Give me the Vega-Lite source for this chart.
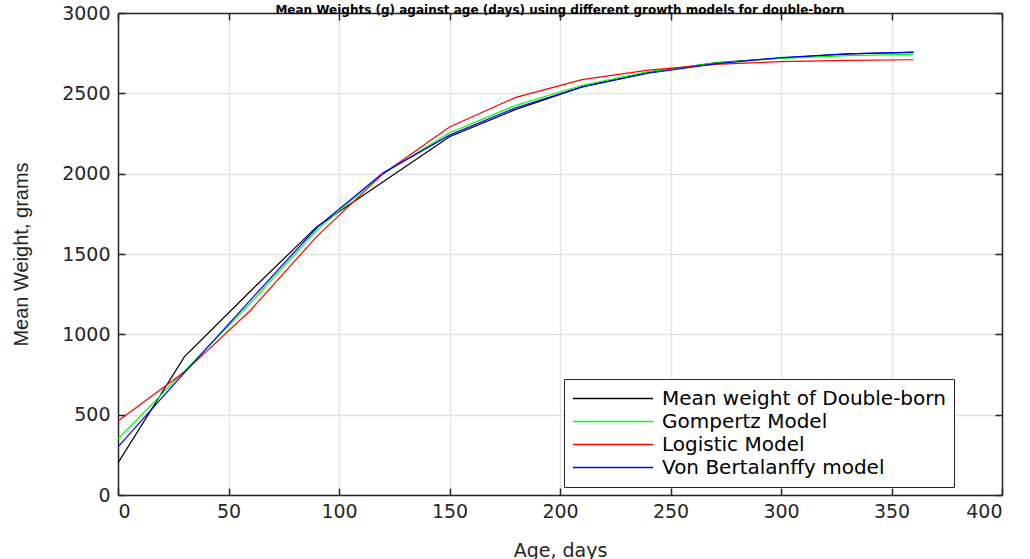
{
  "$schema": "https://vega.github.io/schema/vega-lite/v6.json",
  "width": 884,
  "height": 482,
  "autosize": {"type": "none"},
  "padding": {"left": 118, "top": 13, "right": 28, "bottom": 64},
  "background": "white",
  "title": {
    "text": "Mean Weights (g) against age (days) using different growth models for double-born",
    "anchor": "middle",
    "frame": "group",
    "offset": 0,
    "dy": 25,
    "baseline": "bottom",
    "font": "DejaVu Sans",
    "fontSize": 12,
    "fontWeight": "bold",
    "color": "#000000"
  },
  "config": {
    "view": {"stroke": null},
    "axis": {
      "domainColor": "#262626",
      "domainWidth": 1.5,
      "tickColor": "#262626",
      "tickWidth": 1.5,
      "tickSize": -7,
      "gridColor": "#e3e3e3",
      "gridWidth": 1.3,
      "labelFont": "DejaVu Sans",
      "labelFontSize": 19,
      "labelColor": "#262626",
      "titleColor": "#262626",
      "titleFontWeight": "normal"
    }
  },
  "datasets": {
    "growth": [
      {"age": 0, "series": "Mean weight of Double-born", "weight": 200},
      {"age": 30, "series": "Mean weight of Double-born", "weight": 860},
      {"age": 60, "series": "Mean weight of Double-born", "weight": 1270},
      {"age": 90, "series": "Mean weight of Double-born", "weight": 1670},
      {"age": 120, "series": "Mean weight of Double-born", "weight": 1950},
      {"age": 150, "series": "Mean weight of Double-born", "weight": 2230},
      {"age": 180, "series": "Mean weight of Double-born", "weight": 2400},
      {"age": 210, "series": "Mean weight of Double-born", "weight": 2540},
      {"age": 240, "series": "Mean weight of Double-born", "weight": 2630},
      {"age": 270, "series": "Mean weight of Double-born", "weight": 2690},
      {"age": 300, "series": "Mean weight of Double-born", "weight": 2720},
      {"age": 330, "series": "Mean weight of Double-born", "weight": 2745},
      {"age": 360, "series": "Mean weight of Double-born", "weight": 2755},
      {"age": 0, "series": "Gompertz Model", "weight": 350},
      {"age": 30, "series": "Gompertz Model", "weight": 770},
      {"age": 60, "series": "Gompertz Model", "weight": 1195},
      {"age": 90, "series": "Gompertz Model", "weight": 1650},
      {"age": 120, "series": "Gompertz Model", "weight": 2000},
      {"age": 150, "series": "Gompertz Model", "weight": 2255},
      {"age": 180, "series": "Gompertz Model", "weight": 2425},
      {"age": 210, "series": "Gompertz Model", "weight": 2550},
      {"age": 240, "series": "Gompertz Model", "weight": 2635},
      {"age": 270, "series": "Gompertz Model", "weight": 2688},
      {"age": 300, "series": "Gompertz Model", "weight": 2718},
      {"age": 330, "series": "Gompertz Model", "weight": 2735},
      {"age": 360, "series": "Gompertz Model", "weight": 2743},
      {"age": 0, "series": "Logistic Model", "weight": 460},
      {"age": 30, "series": "Logistic Model", "weight": 765},
      {"age": 60, "series": "Logistic Model", "weight": 1150},
      {"age": 90, "series": "Logistic Model", "weight": 1610},
      {"age": 120, "series": "Logistic Model", "weight": 2000},
      {"age": 150, "series": "Logistic Model", "weight": 2290},
      {"age": 180, "series": "Logistic Model", "weight": 2475},
      {"age": 210, "series": "Logistic Model", "weight": 2585},
      {"age": 240, "series": "Logistic Model", "weight": 2645},
      {"age": 270, "series": "Logistic Model", "weight": 2680},
      {"age": 300, "series": "Logistic Model", "weight": 2697},
      {"age": 330, "series": "Logistic Model", "weight": 2705},
      {"age": 360, "series": "Logistic Model", "weight": 2709},
      {"age": 0, "series": "Von Bertalanffy model", "weight": 300},
      {"age": 30, "series": "Von Bertalanffy model", "weight": 760},
      {"age": 60, "series": "Von Bertalanffy model", "weight": 1215},
      {"age": 90, "series": "Von Bertalanffy model", "weight": 1665},
      {"age": 120, "series": "Von Bertalanffy model", "weight": 2005},
      {"age": 150, "series": "Von Bertalanffy model", "weight": 2240},
      {"age": 180, "series": "Von Bertalanffy model", "weight": 2410},
      {"age": 210, "series": "Von Bertalanffy model", "weight": 2540},
      {"age": 240, "series": "Von Bertalanffy model", "weight": 2625},
      {"age": 270, "series": "Von Bertalanffy model", "weight": 2683},
      {"age": 300, "series": "Von Bertalanffy model", "weight": 2722},
      {"age": 330, "series": "Von Bertalanffy model", "weight": 2745},
      {"age": 360, "series": "Von Bertalanffy model", "weight": 2757}
    ]
  },
  "data": {"name": "growth"},
  "layer": [
    {
      "mark": {"type": "line", "strokeWidth": 1.2, "clip": true},
      "encoding": {
        "x": {
          "field": "age",
          "type": "quantitative",
          "scale": {"domain": [0, 400], "nice": false, "zero": false},
          "axis": {
            "orient": "bottom",
            "values": [0, 50, 100, 150, 200, 250, 300, 350, 400],
            "format": "d",
            "title": "Age, days",
            "titleFont": "DejaVu Sans",
            "titleFontSize": 19,
            "titlePadding": 20,
            "labelPadding": 14,
            "grid": true
          }
        },
        "y": {
          "field": "weight",
          "type": "quantitative",
          "scale": {"domain": [0, 3000], "nice": false},
          "axis": {
            "orient": "left",
            "values": [0, 500, 1000, 1500, 2000, 2500, 3000],
            "format": "d",
            "title": "Mean Weight, grams",
            "titleFont": "Liberation Sans",
            "titleFontSize": 20,
            "titlePadding": 30,
            "labelPadding": 15,
            "grid": true
          }
        },
        "color": {
          "field": "series",
          "type": "nominal",
          "scale": {
            "domain": ["Mean weight of Double-born", "Gompertz Model", "Logistic Model", "Von Bertalanffy model"],
            "range": ["#000000", "#00ff00", "#ff0000", "#0000ff"]
          },
          "legend": {
            "orient": "none",
            "legendX": 446,
            "legendY": 366,
            "title": null,
            "symbolType": "stroke",
            "symbolSize": 6400,
            "symbolStrokeWidth": 1.5,
            "labelFont": "DejaVu Sans",
            "labelFontSize": 20,
            "labelColor": "#000000",
            "labelOffset": 8,
            "labelLimit": 400,
            "clipHeight": 23,
            "rowPadding": 0,
            "padding": 8,
            "strokeColor": "#262626",
            "fillColor": "#ffffff"
          }
        }
      }
    },
    {
      "mark": {"type": "point", "opacity": 0},
      "encoding": {
        "x": {
          "field": "age",
          "type": "quantitative",
          "axis": {
            "orient": "top",
            "values": [0, 50, 100, 150, 200, 250, 300, 350, 400],
            "labels": false,
            "title": null,
            "grid": false
          }
        },
        "y": {
          "field": "weight",
          "type": "quantitative",
          "axis": {
            "orient": "right",
            "values": [0, 500, 1000, 1500, 2000, 2500, 3000],
            "labels": false,
            "title": null,
            "grid": false
          }
        }
      }
    }
  ],
  "resolve": {"axis": {"x": "independent", "y": "independent"}}
}
